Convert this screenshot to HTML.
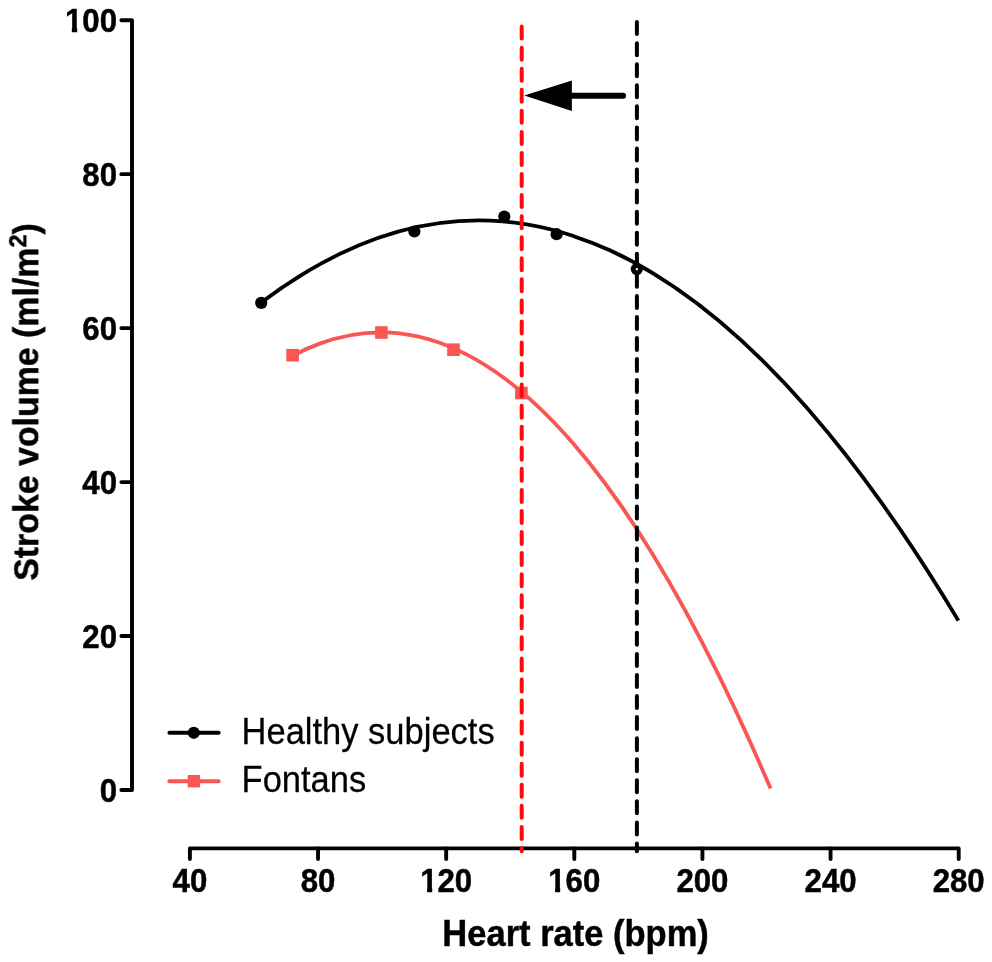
<!DOCTYPE html>
<html><head><meta charset="utf-8"><title>Stroke volume vs heart rate</title>
<style>
html,body{margin:0;padding:0;background:#fff;}
body{width:992px;height:962px;overflow:hidden;font-family:"Liberation Sans",sans-serif;}
svg{display:block;}
text{font-family:"Liberation Sans",sans-serif;fill:#000;stroke:#000;stroke-width:0.25px;}
.b{font-weight:bold;stroke:#000;stroke-width:0.45px;stroke-linejoin:round;}
</style></head><body>
<svg width="992" height="962" viewBox="0 0 992 962">
<rect width="992" height="962" fill="#fff"/>
<g opacity="0.999">
<g stroke="#000" stroke-width="3.9" fill="none" stroke-linecap="round" stroke-linejoin="round">
<path d="M121.35,20.2 H132.0 V790.0 H121.35"/>
<path d="M121.35,174.16 H132.0"/>
<path d="M121.35,328.12 H132.0"/>
<path d="M121.35,482.08 H132.0"/>
<path d="M121.35,636.04 H132.0"/>
<path d="M189.9,859.05 V848.4 H958.7 V859.05"/>
<path d="M318.03,848.4 V859.05"/>
<path d="M446.17,848.4 V859.05"/>
<path d="M574.30,848.4 V859.05"/>
<path d="M702.43,848.4 V859.05"/>
<path d="M830.57,848.4 V859.05"/>
</g>
<text class="b" transform="translate(117.00,32.00) scale(1,1.09)" font-size="31.2" text-anchor="end">100</text>
<text class="b" transform="translate(117.00,185.96) scale(1,1.09)" font-size="31.2" text-anchor="end">80</text>
<text class="b" transform="translate(117.00,339.92) scale(1,1.09)" font-size="31.2" text-anchor="end">60</text>
<text class="b" transform="translate(117.00,493.88) scale(1,1.09)" font-size="31.2" text-anchor="end">40</text>
<text class="b" transform="translate(117.00,647.84) scale(1,1.09)" font-size="31.2" text-anchor="end">20</text>
<text class="b" transform="translate(117.00,801.80) scale(1,1.09)" font-size="31.2" text-anchor="end">0</text>
<text class="b" transform="translate(189.90,892.30) scale(1,1.09)" font-size="31.2" text-anchor="middle">40</text>
<text class="b" transform="translate(318.03,892.30) scale(1,1.09)" font-size="31.2" text-anchor="middle">80</text>
<text class="b" transform="translate(446.17,892.30) scale(1,1.09)" font-size="31.2" text-anchor="middle">120</text>
<text class="b" transform="translate(574.30,892.30) scale(1,1.09)" font-size="31.2" text-anchor="middle">160</text>
<text class="b" transform="translate(702.43,892.30) scale(1,1.09)" font-size="31.2" text-anchor="middle">200</text>
<text class="b" transform="translate(830.57,892.30) scale(1,1.09)" font-size="31.2" text-anchor="middle">240</text>
<text class="b" transform="translate(958.70,892.30) scale(1,1.09)" font-size="31.2" text-anchor="middle">280</text>
<text class="b" transform="translate(575.60,945.90) scale(1,1.06)" font-size="34.5" text-anchor="middle">Heart rate (bpm)</text>
<text class="b" transform="translate(38.10,402.00) rotate(-90) scale(1,1.055)" font-size="33.9" text-anchor="middle">Stroke volume (ml/m<tspan dy="-11.4" font-size="23.5">2</tspan><tspan dy="11.4">)</tspan></text>
<rect x="65.2" y="26.9" width="6.60" height="6.30" fill="#fff"/><rect x="77.2" y="26.9" width="5.20" height="6.30" fill="#fff"/>
<rect x="420.2" y="886.9" width="6.90" height="6.30" fill="#fff"/><rect x="432.2" y="886.9" width="5.40" height="6.30" fill="#fff"/>
<rect x="548.2" y="886.9" width="6.90" height="6.30" fill="#fff"/><rect x="560.2" y="886.9" width="5.60" height="6.30" fill="#fff"/>
<path d="M261.20,302.57 Q609.80,39.08 958.40,620.63" stroke="#000" stroke-width="3.8" fill="none"/>
<path d="M292.60,355.77 Q531.60,229.13 770.60,788.51" stroke="#f95654" stroke-width="3.8" fill="none"/>
<circle cx="261.2" cy="302.9" r="6.1" fill="#000"/>
<circle cx="414.4" cy="231.5" r="6.1" fill="#000"/>
<circle cx="504.3" cy="216.6" r="6.1" fill="#000"/>
<circle cx="556.6" cy="234.2" r="6.1" fill="#000"/>
<circle cx="636.8" cy="269.1" r="6.1" fill="#000"/>
<rect x="286.3" y="348.9" width="12.6" height="12.6" fill="#f95654"/>
<rect x="375.09999999999997" y="326.2" width="12.6" height="12.6" fill="#f95654"/>
<rect x="447.2" y="343.4" width="12.6" height="12.6" fill="#f95654"/>
<rect x="515.1" y="386.75" width="12.6" height="12.6" fill="#f95654"/>
<path d="M636.9,22.1 V851.3" stroke="#000" stroke-width="4" stroke-dasharray="12.0 9.06" stroke-linecap="round" fill="none"/>
<path d="M521.7,26.6 V851.3" stroke="#ff0a0a" stroke-width="4" stroke-dasharray="12.0 9.06" stroke-linecap="round" fill="none"/>
<rect x="635.8" y="268.1" width="2.1" height="2.1" fill="#fff"/>
<path d="M572,95.8 H623.1" stroke="#000" stroke-width="6" stroke-linecap="round" fill="none"/>
<path d="M524.2,95.6 L571.9,80.4 V111 Z" fill="#000"/>
<path d="M169.4,732.8 H218.7" stroke="#000" stroke-width="3.9" stroke-linecap="round" fill="none"/><circle cx="193.8" cy="732.8" r="6.1" fill="#000"/>
<path d="M169.4,781.2 H218.7" stroke="#f95654" stroke-width="3.9" stroke-linecap="round" fill="none"/><rect x="187.7" y="775" width="12.4" height="12.4" fill="#f95654"/>
<text transform="translate(241.60,743.50) scale(1,1.05)" font-size="34.5" text-anchor="start">Healthy subjects</text>
<text transform="translate(241.60,792.30) scale(1,1.05)" font-size="34.5" text-anchor="start">Fontans</text>
</g></svg></body></html>
